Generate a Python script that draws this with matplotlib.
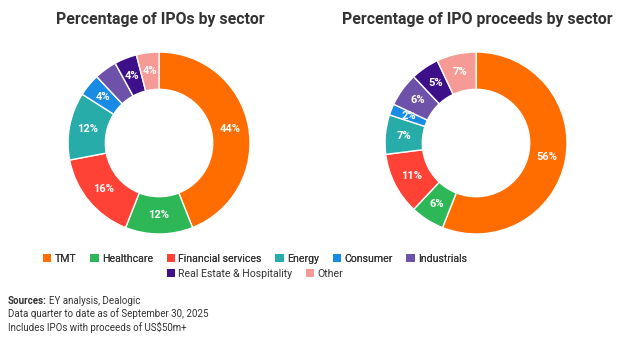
import numpy as np
import matplotlib.pyplot as plt
from matplotlib.patches import Patch

plt.rcParams['font.family'] = ['Roboto', 'DejaVu Sans']

sectors = ["TMT", "Healthcare", "Financial services", "Energy", "Consumer",
           "Industrials", "Real Estate & Hospitality", "Other"]
colors = ["#FF6D00", "#2DB757", "#FF4136", "#27ACAA", "#188CE5",
          "#6E51A8", "#3D108A", "#F59A94"]

ipo_share = [44, 12, 16, 12, 4, 4, 4, 4]
ipo_labels = ["44%", "12%", "16%", "12%", "4%", "", "4%", "4%"]
proceeds_share = [56, 6, 11, 7, 2, 6, 5, 7]
proceeds_labels = ["56%", "6%", "11%", "7%", "2%", "6%", "5%", "7%"]

fig = plt.figure(figsize=(6.24, 3.44), dpi=100)
fig.patch.set_facecolor("white")


def donut(ax, values, labels):
	wedges, _ = ax.pie(values, colors=colors, startangle=90, counterclock=False,
					   radius=1, wedgeprops=dict(width=0.41, edgecolor="white", linewidth=1))
	for w, lab in zip(wedges, labels):
		if not lab:
			continue
		ang = np.deg2rad((w.theta1 + w.theta2) / 2)
		r = 0.795
		ax.text(r * np.cos(ang), r * np.sin(ang), lab, ha="center", va="center",
				color="white", fontsize=8, fontweight="bold")
	ax.set_xlim(-1, 1)
	ax.set_ylim(-1, 1)
	ax.set_aspect("equal")
	ax.axis("off")


ax1 = fig.add_axes([0.109, 0.3198, 0.2917, 0.529])
donut(ax1, ipo_share, ipo_labels)
ax2 = fig.add_axes([0.617, 0.3198, 0.2917, 0.529])
donut(ax2, proceeds_share, proceeds_labels)

fig.text(0.257, 0.942, "Percentage of IPOs by sector", ha="center", va="center",
		 fontsize=11.4, fontweight="bold", color="#333333")
fig.text(0.765, 0.942, "Percentage of IPO proceeds by sector", ha="center", va="center",
		 fontsize=11.4, fontweight="bold", color="#333333")

handles = [Patch(facecolor=c, edgecolor="none") for c in colors]
leg_kw = dict(frameon=False, fontsize=7.6, handlelength=0.8, handleheight=0.8,
			  handletextpad=0.3, columnspacing=1.3, labelcolor="#333333")
leg1 = fig.legend(handles[:6], sectors[:6], ncol=6, loc="center",
				  bbox_to_anchor=(255 / 624, 1 - 259 / 344), **leg_kw)
fig.add_artist(leg1)
fig.legend(handles[6:], sectors[6:], ncol=2, loc="center",
		   bbox_to_anchor=(255 / 624, 1 - 274 / 344), **leg_kw)

src = fig.text(0.013, 1 - 301 / 344, "Sources:", fontsize=7, fontweight="bold",
			   color="#333333", va="center")
fig.canvas.draw()
bb = src.get_window_extent().transformed(fig.transFigure.inverted())
fig.text(bb.x1 + 0.004, 1 - 301 / 344, "EY analysis, Dealogic", fontsize=7,
		 color="#333333", va="center")
fig.text(0.013, 1 - 314 / 344, "Data quarter to date as of September 30, 2025",
		 fontsize=7, color="#333333", va="center")
fig.text(0.013, 1 - 327 / 344, "Includes IPOs with proceeds of US$50m+",
		 fontsize=7, color="#333333", va="center")

fig.savefig("out.png", dpi=100)
